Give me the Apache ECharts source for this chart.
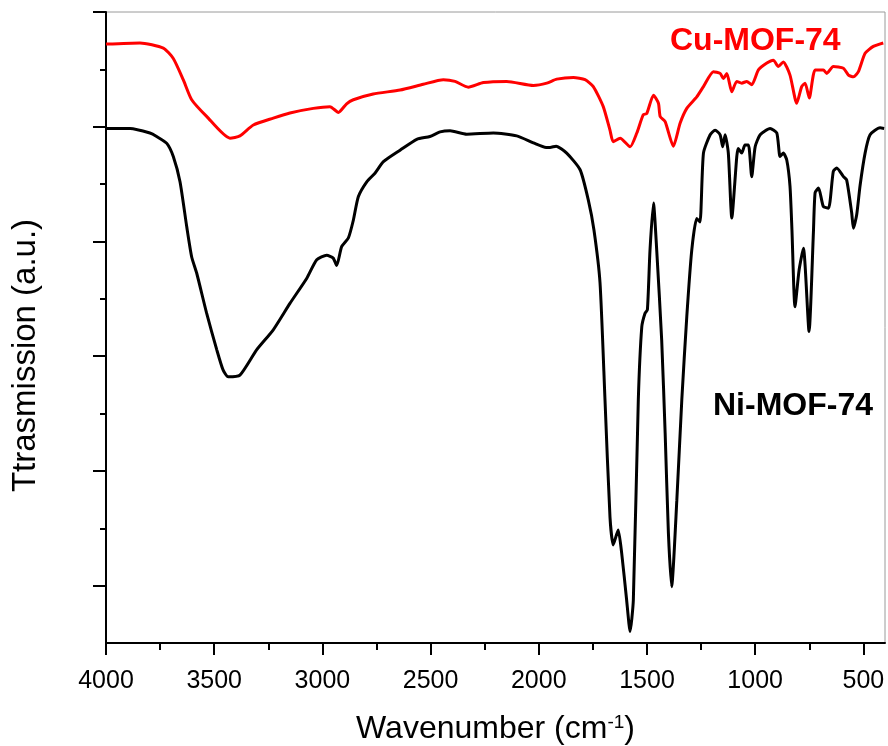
<!DOCTYPE html>
<html>
<head>
<meta charset="utf-8">
<script src="https://cdn.jsdelivr.net/npm/echarts@6/dist/echarts.min.js"></script>
<style>html,body{margin:0;padding:0;background:#fff;}#chart{width:888px;height:746px;}</style>
</head>
<body>
<div id="chart"></div>
<script>
// Ni-MOF-74 (black) spectrum
const niWavenumber = [4000,3889,3797,3766,3719,3689,3658,3627,3604,3581,3535,3488,3459,3435,3381,3304,3227,3150,3072,3026,2980,2950,2934,2911,2880,2857,2834,2795,2757,2718,2641,2564,2503,2456,2410,2333,2210,2102,2025,1966,1948,1920,1871,1809,1771,1745,1717,1694,1671,1656,1633,1617,1594,1578,1563,1540,1524,1509,1498,1486,1470,1455,1432,1416,1401,1386,1362,1339,1316,1293,1270,1255,1239,1208,1185,1162,1150,1139,1124,1108,1085,1078,1062,1047,1031,1016,1000,977,931,900,885,870,854,839,830,816,797,777,751,731,723,707,685,661,639,623,592,577,554,546,531,515,492,469,423,404];
const niTrans = [89.7,89.7,88.9,88.3,87.1,84.8,80.4,72.6,67.3,64.5,57.5,51.1,47.6,46.4,46.7,51.1,54.6,59.2,63.6,66.8,67.6,67.1,65.8,69.1,70.6,73.7,77.8,80.4,81.9,83.9,85.9,87.8,88.3,89.1,89.3,88.7,88.9,88.4,87.2,86.4,86.4,86.6,85.4,82.5,77.2,72.0,62.8,42.4,22.0,17.1,19.7,15.7,7.5,2.0,7.5,42.4,55.1,57.5,58.1,68.5,76.7,68.5,52.8,36.6,19.2,9.8,24.9,42.4,56.9,68.5,74.0,73.4,85.4,88.6,89.4,88.6,86.5,88.6,85.4,74.1,84.8,86.2,85.4,86.8,86.8,81.3,86.5,88.6,89.7,88.9,84.8,85.4,84.2,79.6,72.0,58.6,65.0,68.8,54.3,71.4,78.5,79.3,76.1,75.8,82.2,82.8,81.3,80.7,75.0,72.3,74.6,79.8,85.4,88.6,89.8,89.7];

// Cu-MOF-74 (red) spectrum
const cuWavenumber = [4000,3843,3735,3689,3643,3604,3535,3427,3381,3319,3227,3150,3042,2965,2926,2888,2857,2765,2641,2534,2441,2387,2326,2256,2148,2025,1963,1917,1840,1786,1748,1702,1671,1656,1624,1578,1547,1517,1501,1470,1447,1439,1416,1378,1347,1316,1270,1239,1193,1162,1147,1131,1108,1085,1062,1039,1016,985,946,916,893,870,839,808,785,769,750,723,685,669,639,592,569,546,523,492,454,408];
const cuTrans = [104.4,104.6,103.7,101.9,98.2,94.7,91.8,88.0,88.4,90.3,91.5,92.4,93.2,93.5,92.5,94.0,94.7,95.7,96.4,97.4,98.2,97.9,96.9,97.7,97.9,97.2,97.6,98.3,98.6,98.2,97.0,93.5,89.4,87.4,88.0,86.5,88.9,92.1,92.3,95.5,94.1,91.8,90.9,86.6,90.6,93.2,95.2,97.0,99.6,99.3,98.4,99.3,96.1,97.9,97.6,97.9,97.3,99.9,101.1,101.6,100.5,101.3,99.0,94.1,97.0,97.6,95.0,99.9,99.9,99.3,100.5,100.2,99.0,98.7,99.6,102.8,104.0,104.6];

// Axis ticks / labels
const xTickLabels = [4000,3500,3000,2500,2000,1500,1000,500];
const xMinorTicks = [3750,3250,2750,2250,1750,1250,750];
const yMajorTicks = [10,30,50,70,90,110];
const yMinorTicks = [20,40,60,80,100];

const FONT = "'Liberation Sans', Arial, sans-serif";
const zip = (a, b) => a.map((v, i) => [v, b[i]]);

const chart = echarts.init(document.getElementById('chart'), null, {renderer: 'canvas'});
chart.setOption({
  animation: false,
  backgroundColor: '#fff',
  grid: {left: 106, right: 3, top: 12, bottom: 103, containLabel: false, outerBoundsMode: 'none',
    show: true, borderColor: '#9a9a9a', borderWidth: 1, backgroundColor: 'transparent'},
  xAxis: [{
    type: 'value', inverse: true, min: 400, max: 4000,
    position: 'bottom',
    axisLine: {show: true, onZero: false, lineStyle: {color: '#000', width: 2}},
    axisTick: {show: true, inside: false, length: 12, customValues: xTickLabels, lineStyle: {color: '#000', width: 2}},
    axisLabel: {show: true, customValues: xTickLabels, margin: 26, fontSize: 25, color: '#000', fontFamily: FONT,
      formatter: v => String(v)},
    splitLine: {show: false},
    name: 'Wavenumber (cm{sup|-1})',
    nameLocation: 'middle', nameGap: 70,
    nameTextStyle: {fontSize: 32, color: '#000', fontFamily: FONT,
      rich: {sup: {fontSize: 19, color: '#000', fontFamily: FONT, verticalAlign: 'top', padding: [0,0,13,0]}}}
  }, {
    type: 'value', inverse: true, min: 400, max: 4000,
    position: 'bottom',
    axisLine: {show: false, onZero: false},
    axisTick: {show: true, inside: false, length: 7, customValues: xMinorTicks, lineStyle: {color: '#000', width: 2}},
    axisLabel: {show: false},
    splitLine: {show: false}
  }],
  yAxis: [{
    type: 'value', min: 0, max: 110, position: 'left',
    axisLine: {show: true, onZero: false, lineStyle: {color: '#000', width: 2}},
    axisTick: {show: true, inside: false, length: 13, customValues: yMajorTicks, lineStyle: {color: '#000', width: 2}},
    axisLabel: {show: false},
    splitLine: {show: false},
    name: 'Ttrasmission (a.u.)',
    nameLocation: 'middle', nameGap: 64,
    nameTextStyle: {fontSize: 33, color: '#000', fontFamily: FONT, padding: [0, 56, 0, 0]}
  }, {
    type: 'value', min: 0, max: 110, position: 'left', offset: 0,
    axisLine: {show: false, onZero: false},
    axisTick: {show: true, inside: false, length: 6, customValues: yMinorTicks, lineStyle: {color: '#000', width: 2}},
    axisLabel: {show: false},
    splitLine: {show: false}
  }],
  series: [{
    name: 'Ni-MOF-74', type: 'line', xAxisIndex: 0, yAxisIndex: 0,
    data: zip(niWavenumber, niTrans), showSymbol: false, smooth: 0.2,
    lineStyle: {color: '#000', width: 3}, itemStyle: {color: '#000'}
  }, {
    name: 'Cu-MOF-74', type: 'line', xAxisIndex: 0, yAxisIndex: 0,
    data: zip(cuWavenumber, cuTrans), showSymbol: false, smooth: 0.2,
    lineStyle: {color: '#ff0000', width: 3}, itemStyle: {color: '#ff0000'}
  }],
  graphic: [{
    type: 'text', left: 670, top: 25,
    style: {text: 'Cu-MOF-74', fill: '#ff0000', font: "bold 32px 'Liberation Sans', Arial, sans-serif"}
  }, {
    type: 'text', left: 713, top: 390,
    style: {text: 'Ni-MOF-74', fill: '#000', font: "bold 32px 'Liberation Sans', Arial, sans-serif"}
  }]
});
</script>
</body>
</html>
